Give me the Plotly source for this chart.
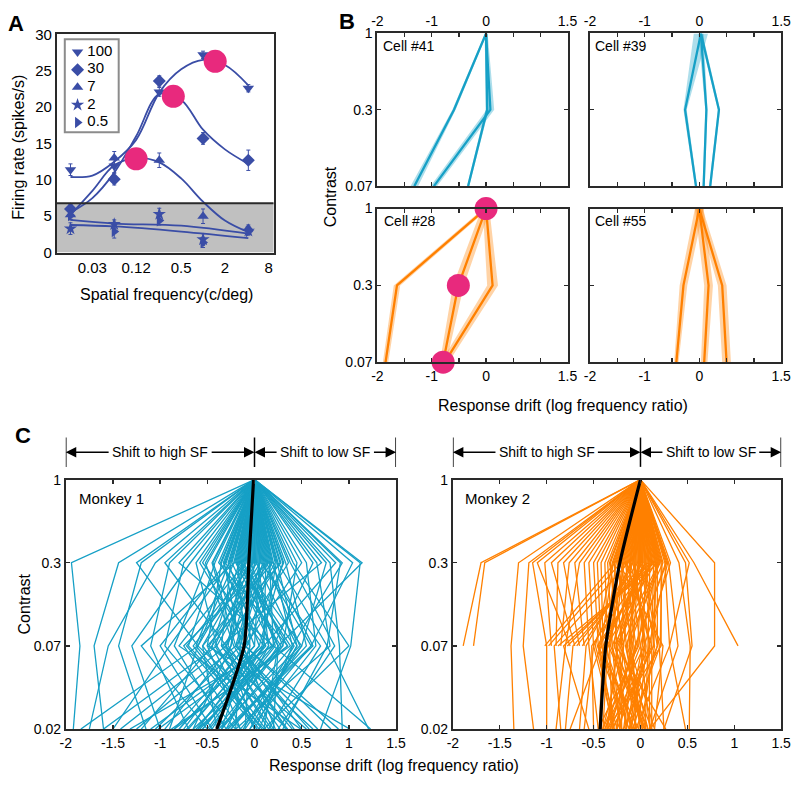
import plotly.graph_objects as go

W, H = 800, 786
FONT = "Arial, Liberation Sans, sans-serif"

# ---------------- Panel A data ----------------
sf = [0.015, 0.06, 0.25, 1.0, 4.2]
legend_names = ["100", "30", "7", "2", "0.5"]
rate_100 = [11.4, 11.9, 22.1, 27.2, 22.6]
rate_30 = [6.0, 10.1, 23.6, 15.7, 12.7]
rate_7 = [5.2, 13.0, 12.7, 5.0, 3.3]
rate_2 = [3.3, 3.9, 5.3, 1.8, 3.0]
rate_05 = [5.1, 2.9, 4.4, 1.4, 2.9]
err_100 = [0.8, 0.9, 0.6, 0.5, 0.5]
err_30 = [0.6, 0.8, 0.7, 0.8, 1.4]
err_7 = [0.6, 0.9, 1.0, 1.0, 0.5]
err_2 = [0.8, 0.6, 0.8, 0.8, 0.5]
err_05 = [0.6, 0.9, 0.6, 0.7, 0.5]
fit_sf = [0.015, 0.03, 0.06, 0.12, 0.25, 0.5, 1.0, 2.0, 4.2]
fit_100 = [10.4, 10.6, 12.5, 15.5, 22.0, 25.2, 26.5, 25.8, 23.0]
fit_30 = [5.5, 7.5, 11.0, 16.0, 21.8, 21.0, 16.9, 14.2, 12.2]
fit_7 = [5.2, 8.5, 12.0, 13.0, 12.4, 10.2, 7.0, 4.4, 2.8]
low_sf = [0.015, 0.06, 0.5, 4.2]
fit_2 = [4.5, 4.0, 3.7, 2.6]
fit_05 = [3.8, 3.6, 2.9, 2.0]
peak_sf = [0.12, 0.39, 1.47]
peak_rate = [12.9, 21.5, 26.3]
gray_threshold = 6.8
A_xticks = [0.03, 0.12, 0.5, 2, 8]

# ---------------- Panel B data ----------------
B_levels = ["1", "0.3", "0.07"]
cell41 = [[0.0, -0.59, -1.32], [0.0, 0.08, -0.96], [0.0, 0.02, -0.33]]
cell41_sem = [[0.02, 0.03, 0.07], [0.03, 0.07, 0.06], [0.02, 0.03, 0.02]]
cell39 = [[0.03, -0.26, -0.06], [0.03, 0.13, 0.08], [0.03, 0.36, 0.2]]
cell39_sem = [[0.13, 0.03, 0.02], [0.05, 0.02, 0.02], [0.03, 0.02, 0.02]]
cell28 = [[0.0, -1.64, -1.85], [0.0, -0.51, -0.79], [0.0, 0.12, -0.76]]
cell28_sem = [[0.05, 0.06, 0.05], [0.08, 0.1, 0.06], [0.06, 0.1, 0.07]]
cell55 = [[0.0, -0.29, -0.42], [0.0, 0.17, 0.09], [0.0, 0.42, 0.5]]
cell55_sem = [[0.08, 0.07, 0.04], [0.08, 0.08, 0.06], [0.06, 0.08, 0.08]]
cell28_peaks_x = [0.0, -0.51, -0.79]
cell28_peaks_lvl = [0, 1, 2]
B_xtickvals = [-2, -1.5, -1, -0.5, 0, 0.5, 1, 1.5]
B_xticktext = ["-2", "", "-1", "", "0", "", "", "1.5"]

# ---------------- Panel C data ----------------
C_levels = ["1", "0.3", "0.07", "0.02"]
m1_c1 = 0.0
m1_c03 = [
    -1.94, -1.44, -1.25, -1.20, -0.95, -0.90, -0.80, -0.75, -0.68, -0.62,
    -0.55, -0.50, -0.45, -0.42, -0.38, -0.35, -0.32, -0.30, -0.28, -0.25,
    -0.22, -0.20, -0.18, -0.16, -0.14, -0.12, -0.10, -0.08, -0.06, -0.05,
    -0.04, -0.02, 0.00, 0.02, 0.03, 0.05, 0.06, 0.08, 0.10, 0.12,
    0.14, 0.16, 0.18, 0.20, 0.22, 0.25, 0.28, 0.30, 0.33, 0.36,
    0.41, 0.45, 0.50, 0.55, 0.62, 0.66, 0.71, 0.76, 0.80, 0.86,
    0.91, 0.93, 1.04, 1.12, 1.14, -0.26, -0.15, -0.09, 0.04, 0.11,
    -0.33, -0.21, 0.07, 0.15, 0.24, -0.58, -1.05, 0.38, -0.11, 0.01,
    -0.36, -0.27, -0.19, -0.13, -0.07, -0.03, 0.09, 0.13, 0.19, 0.23,
    -0.44, -0.31, 0.27, 0.17, -0.01, -0.24, 0.06, -0.17, 0.31, -0.52]
m1_c007 = [
    -1.85, -1.70, -0.60, -1.44, -0.30, -1.10, 0.20, -0.95, -1.30, -0.40,
    0.10, -0.85, -0.20, -0.70, 0.35, -0.50, -0.15, -1.00, 0.05, -0.35,
    -0.60, 0.25, -0.10, -0.45, 0.50, -0.25, -0.80, 0.15, -0.05, -0.55,
    0.30, -0.30, -0.15, 0.45, -0.65, 0.00, -0.20, 0.60, -0.40, 0.10,
    -0.75, 0.20, -0.10, 0.40, -0.30, 0.77, -0.50, 0.05, 0.55, -0.20,
    1.00, 0.30, -0.10, 0.65, 0.20, 0.80, -0.35, 0.50, 0.90, 0.10,
    0.77, 0.40, 0.60, 1.02, 0.25, -0.90, 0.35, -0.60, 0.15, -0.15,
    0.00, -1.20, 0.70, -0.45, 0.45, -0.05, -1.55, 0.85, 0.25, -0.25,
    0.12, -0.62, 0.38, -0.28, 0.22, -0.42, -0.18, 0.48, -0.55, 0.08,
    -0.12, 0.28, -0.33, 0.62, -0.72, 0.18, -0.48, 0.42, -0.08, -0.22]
m1_c002 = [
    -1.92, -1.60, -1.84, -1.15, -1.42, -0.70, -1.32, -0.20, -1.00, -1.60,
    -0.55, -0.30, -1.25, 0.10, -0.85, -0.15, -1.05, -0.45, -0.60, 0.27,
    -0.90, -0.35, -0.75, 0.00, -0.25, -0.95, 0.49, -0.50, -0.10, -0.40,
    -0.65, 0.20, -0.20, -0.05, 0.05, -0.80, 0.67, -0.30, 0.15, -1.10,
    -0.15, -0.55, 0.89, -0.35, 0.00, 0.30, 1.01, -0.70, -0.25, 0.58,
    0.10, -0.40, 0.81, -0.05, 1.23, -0.20, 0.40, -0.10, 0.93, -0.45,
    1.21, 0.05, -0.15, 0.70, 0.20, -1.50, -0.60, 0.35, -0.30, 0.50,
    -0.80, -0.50, 0.15, -1.20, 0.00, -0.35, -1.75, 0.25, 0.10, -0.65,
    -0.62, 0.08, -0.88, 0.35, -0.48, 0.18, 0.42, -0.38, 0.12, -0.72,
    0.22, -0.58, 0.62, -0.28, 0.03, -1.02, 0.55, -0.12, -0.85, 0.33]
m1_mean = [-0.01, -0.06, -0.11, -0.40]

m2_c1 = 0.0
m2_c03 = [
    -1.70, -1.66, -1.30, -1.19, -1.15, -1.10, -1.02, -0.95, -0.88, -0.82,
    -0.76, -0.70, -0.65, -0.60, -0.55, -0.50, -0.46, -0.42, -0.38, -0.35,
    -0.32, -0.30, -0.28, -0.26, -0.24, -0.22, -0.20, -0.18, -0.16, -0.14,
    -0.12, -0.10, -0.08, -0.06, -0.04, -0.02, 0.00, 0.02, 0.04, 0.06,
    0.08, 0.10, 0.12, 0.14, 0.16, 0.18, 0.20, 0.22, 0.24, 0.26,
    0.28, 0.30, 0.32, 0.41, 0.48, 0.52, 0.57, 0.79, -0.09, -0.03,
    0.03, 0.07, 0.11, 0.15, 0.19, -0.13, -0.21, -0.27, 0.01, 0.09,
    -0.01, -0.07, 0.13, 0.17, -0.17, -0.23, 0.05, -0.11, 0.21, -0.05,
    -0.25, -0.19, -0.15, -0.11, -0.06, -0.02, 0.02, 0.05, 0.09, 0.12,
    0.16, 0.20, 0.23, 0.27, -0.29, -0.33, 0.29, -0.08, 0.00, 0.18]
m2_c007 = [
    -1.89, -1.78, -1.38, -1.25, -1.00, -0.75, -0.95, -0.70, -0.90, -0.65,
    -0.85, -0.60, -0.80, -0.55, -0.50, -0.45, -0.42, -0.40, -0.35, -0.30,
    -0.25, -0.48, -0.20, -0.38, -0.15, -0.33, -0.10, -0.28, -0.05, -0.22,
    0.00, -0.18, 0.05, -0.12, 0.10, -0.08, 0.15, -0.03, 0.20, 0.02,
    -0.52, 0.08, -0.44, 0.12, -0.36, 0.18, -0.26, 0.22, -0.16, 0.31,
    -0.06, 0.40, 0.04, 0.53, 0.55, 0.31, 1.04, 0.79, -0.58, -0.62,
    -0.68, -0.72, -0.78, -0.82, -0.88, -0.92, -0.98, -1.02, -0.30, -0.24,
    -0.14, 0.06, -0.46, 0.14, -0.34, 0.24, -0.40, 0.10, -0.20, -0.10,
    -0.08, -0.32, 0.12, -0.45, 0.04, -0.22, 0.18, -0.38, -0.02, -0.28,
    0.14, -0.12, 0.21, -0.05, -0.42, -0.18, 0.09, -0.50, -0.26, 0.00]
m2_c002 = [
    None, None, -1.35, -1.14, -1.00, None, None, None, None, None,
    None, None, -0.90, -0.45, -0.60, -0.30, -0.75, -0.20, -0.40, -0.10,
    -0.35, -0.25, -0.05, -0.42, 0.00, -0.30, -0.15, 0.05, -0.38, -0.20,
    0.10, -0.25, -0.10, 0.15, -0.33, -0.05, 0.00, -0.40, 0.25, -0.15,
    -0.50, 0.05, -0.28, 0.12, -0.20, -0.08, 0.27, -0.35, 0.02, 0.48,
    -0.18, 0.10, -0.12, 0.52, 0.25, -0.05, None, 0.10, -0.65, None,
    None, -0.80, None, -0.55, None, -0.85, None, None, -0.22, -0.36,
    0.08, -0.02, -0.12, -0.30, 0.04, 0.15, -0.44, -0.16, 0.06, -0.26,
    -0.32, 0.05, -0.25, -0.02, -0.38, 0.12, -0.18, -0.08, -0.45, 0.08,
    -0.30, 0.02, -0.12, -0.22, -0.06, -0.40, 0.10, -0.28, -0.15, -0.35]
m2_mean = [0.0, -0.22, -0.37, -0.43]
C_xtickvals = [-2, -1.5, -1, -0.5, 0, 0.5, 1, 1.5]
C_xticktext = ["-2", "-1.5", "-1", "-0.5", "0", "0.5", "1", "1.5"]

# ---------------- styles ----------------
A_BLUE = "#3A4DA6"
CYAN = "#16A0C6"
CYAN_BAND = "rgba(22,160,198,0.35)"
ORANGE = "#FF8000"
ORANGE_BAND = "rgba(255,128,0,0.35)"
PINK = "#E8297D"
SYMBOLS = ["triangle-down", "diamond", "triangle-up", "star", "triangle-right"]


def px_x(p):
    return p / W


def px_y(p):
    return 1 - p / H


fig = go.Figure()

# ---- Panel A ----
series = [(rate_100, err_100), (rate_30, err_30), (rate_7, err_7),
          (rate_2, err_2), (rate_05, err_05)]
for fx, fy in [(fit_sf, fit_100), (fit_sf, fit_30), (fit_sf, fit_7),
               (low_sf, fit_2), (low_sf, fit_05)]:
    fig.add_trace(go.Scatter(x=fx, y=fy, mode="lines", xaxis="x", yaxis="y",
                             line=dict(color=A_BLUE, width=1.8, shape="spline", smoothing=1.0),
                             showlegend=False, hoverinfo="skip"))
for name, (vals, errs), sym in zip(legend_names, series, SYMBOLS):
    fig.add_trace(go.Scatter(x=sf, y=vals, mode="markers", name=name, xaxis="x", yaxis="y",
                             marker=dict(symbol=sym, size=10, color=A_BLUE),
                             error_y=dict(type="data", array=errs, color=A_BLUE,
                                          thickness=1, width=2),
                             showlegend=False))
fig.add_trace(go.Scatter(x=peak_sf, y=peak_rate, mode="markers", xaxis="x", yaxis="y",
                         marker=dict(size=23, color=PINK), showlegend=False,
                         cliponaxis=False))

# manual legend for panel A (own hidden axes laid over the legend box, in pixel units)
leg_rows = [44, 62, 80, 98, 116]
fig.add_trace(go.Scatter(x=[73] * 5, y=leg_rows, mode="markers", xaxis="x8", yaxis="y8",
                         marker=dict(symbol=SYMBOLS, size=10, color=A_BLUE),
                         showlegend=False, hoverinfo="skip", cliponaxis=False))
fig.add_trace(go.Scatter(x=[83] * 5, y=leg_rows, mode="text", text=legend_names,
                         textposition="middle right", xaxis="x8", yaxis="y8",
                         textfont=dict(family=FONT, size=15, color="black"),
                         showlegend=False, hoverinfo="skip", cliponaxis=False))


# ---- Panel B ----
def add_cell(lines, sems, xa, ya, color, band):
    for ln, sm in zip(lines, sems):
        lv = list(range(len(ln)))
        bx = [v + s for v, s in zip(ln, sm)] + [v - s for v, s in zip(ln[::-1], sm[::-1])]
        by = lv + lv[::-1]
        fig.add_trace(go.Scatter(x=bx, y=by, mode="lines", fill="toself", fillcolor=band,
                                 line=dict(width=0), xaxis=xa, yaxis=ya,
                                 showlegend=False, hoverinfo="skip"))
    for ln in lines:
        fig.add_trace(go.Scatter(x=ln, y=list(range(len(ln))), mode="lines",
                                 line=dict(color=color, width=2.3), xaxis=xa, yaxis=ya,
                                 showlegend=False))


add_cell(cell41, cell41_sem, "x2", "y2", CYAN, CYAN_BAND)
add_cell(cell39, cell39_sem, "x3", "y3", CYAN, CYAN_BAND)
add_cell(cell28, cell28_sem, "x4", "y4", ORANGE, ORANGE_BAND)
add_cell(cell55, cell55_sem, "x5", "y5", ORANGE, ORANGE_BAND)
fig.add_trace(go.Scatter(x=cell28_peaks_x, y=cell28_peaks_lvl, mode="markers",
                         marker=dict(size=23, color=PINK), xaxis="x4", yaxis="y4",
                         showlegend=False, cliponaxis=False))


# ---- Panel C ----
def polylines(start, c03, c007, c002):
    xs, ys = [], []
    for a, b, c in zip(c03, c007, c002):
        for lvl, v in enumerate([start, a, b, c]):
            if v is None:
                break
            xs.append(v)
            ys.append(lvl)
        xs.append(None)
        ys.append(None)
    return xs, ys


x1s, y1s = polylines(m1_c1, m1_c03, m1_c007, m1_c002)
fig.add_trace(go.Scatter(x=x1s, y=y1s, mode="lines", line=dict(color=CYAN, width=1.3),
                         xaxis="x6", yaxis="y6", showlegend=False, connectgaps=False))
fig.add_trace(go.Scatter(x=m1_mean, y=list(range(4)), mode="lines",
                         line=dict(color="black", width=3.2, shape="spline", smoothing=0.6),
                         xaxis="x6", yaxis="y6", showlegend=False))
x2s, y2s = polylines(m2_c1, m2_c03, m2_c007, m2_c002)
fig.add_trace(go.Scatter(x=x2s, y=y2s, mode="lines", line=dict(color=ORANGE, width=1.3),
                         xaxis="x7", yaxis="y7", showlegend=False, connectgaps=False))
fig.add_trace(go.Scatter(x=m2_mean, y=list(range(4)), mode="lines",
                         line=dict(color="black", width=3.2, shape="spline", smoothing=0.6),
                         xaxis="x7", yaxis="y7", showlegend=False))

# ---------------- axes ----------------
FRAME = "#2a2a2a"


def axis(**kw):
    d = dict(showline=True, linecolor=FRAME, linewidth=2, mirror="allticks", ticks="inside",
             ticklen=4, tickwidth=1.3, tickcolor=FRAME, showgrid=False, zeroline=False,
             tickfont=dict(family=FONT, size=14, color="black"), fixedrange=True)
    d.update(kw)
    return d


B_top = (px_y(181), px_y(25))
B_bot = (px_y(361), px_y(204))
B_left = (px_x(379), px_x(573))
B_right = (px_x(596), px_x(791))
C_y = (px_y(736), px_y(481))

layout_axes = dict(
    xaxis=axis(domain=[px_x(52), px_x(273)], type="log", range=[-2.01, 0.97],
               tickvals=A_xticks, ticktext=[str(v) for v in A_xticks], ticks="",
               mirror=True, anchor="y", tickfont=dict(family=FONT, size=15, color="black")),
    yaxis=axis(domain=[px_y(249), px_y(26)], range=[0, 30], dtick=5, ticks="", mirror=True,
               anchor="x", tickfont=dict(family=FONT, size=15, color="black")),
    xaxis2=axis(domain=list(B_left), range=[-2, 1.5], side="top", tickvals=B_xtickvals,
                ticktext=B_xticktext, anchor="y2"),
    yaxis2=axis(domain=list(B_top), range=[2, 0], tickvals=[0, 1, 2], ticktext=B_levels,
                anchor="x2"),
    xaxis3=axis(domain=list(B_right), range=[-2, 1.5], side="top", tickvals=B_xtickvals,
                ticktext=B_xticktext, anchor="y3"),
    yaxis3=axis(domain=list(B_top), range=[2, 0], tickvals=[0, 1, 2], showticklabels=False,
                anchor="x3"),
    xaxis4=axis(domain=list(B_left), range=[-2, 1.5], tickvals=B_xtickvals,
                ticktext=B_xticktext, anchor="y4"),
    yaxis4=axis(domain=list(B_bot), range=[2, 0], tickvals=[0, 1, 2], ticktext=B_levels,
                anchor="x4"),
    xaxis5=axis(domain=list(B_right), range=[-2, 1.5], tickvals=B_xtickvals,
                ticktext=B_xticktext, anchor="y5"),
    yaxis5=axis(domain=list(B_bot), range=[2, 0], tickvals=[0, 1, 2], showticklabels=False,
                anchor="x5"),
    xaxis6=axis(domain=[px_x(61), px_x(398)], range=[-2, 1.5], tickvals=C_xtickvals,
                ticktext=C_xticktext, anchor="y6"),
    yaxis6=axis(domain=list(C_y), range=[3, 0], tickvals=[0, 1, 2, 3], ticktext=C_levels,
                anchor="x6"),
    xaxis7=axis(domain=[px_x(456), px_x(791)], range=[-2, 1.5], tickvals=C_xtickvals,
                ticktext=C_xticktext, anchor="y7"),
    yaxis7=axis(domain=list(C_y), range=[3, 0], tickvals=[0, 1, 2, 3], ticktext=C_levels,
                anchor="x7"),
    xaxis8=dict(domain=[px_x(60), px_x(115)], range=[60, 115], visible=False,
                fixedrange=True, anchor="y8"),
    yaxis8=dict(domain=[px_y(126), px_y(31)], range=[126, 31], visible=False,
                fixedrange=True, anchor="x8"),
)

# ---------------- shapes ----------------
shapes = [
    dict(type="rect", xref="x domain", yref="y", x0=0, x1=1, y0=0, y1=gray_threshold,
         fillcolor="#C0C0C0", line=dict(width=0), layer="below"),
    dict(type="line", xref="x domain", yref="y", x0=0, x1=1, y0=gray_threshold,
         y1=gray_threshold, line=dict(color=FRAME, width=2)),
    dict(type="rect", xref="paper", yref="paper", x0=px_x(60), x1=px_x(115),
         y0=px_y(126), y1=px_y(31), fillcolor="white",
         line=dict(color="#8c8c8c", width=2), layer="below"),
]
bar_y0, bar_y1, arrow_y = px_y(468), px_y(438), px_y(453)
for xa in ["x6", "x7"]:
    for xv in [-2, 0, 1.5]:
        shapes.append(dict(type="line", xref=xa, yref="paper", x0=xv, x1=xv,
                           y0=bar_y0, y1=bar_y1, line=dict(color="black", width=1.5)))

# ---------------- annotations ----------------
ann = []


def label(text, x, y, size=16, angle=0, xanchor="center", bold=False):
    t = f"<b>{text}</b>" if bold else text
    ann.append(dict(text=t, x=px_x(x), y=px_y(y), xref="paper", yref="paper",
                    showarrow=False, textangle=angle, xanchor=xanchor, yanchor="middle",
                    font=dict(family=FONT, size=size, color="black")))


label("A", 10, 15, size=22, bold=True)
label("B", 348, 13, size=22, bold=True)
label("C", 17, 436, size=22, bold=True)
label("Firing rate (spikes/s)", 13, 141, size=16, angle=-90)
label("Spatial frequency(c/deg)", 164, 292, size=16)
label("Contrast", 331, 192, size=16, angle=-90)
label("Response drift (log frequency ratio)", 568, 405, size=16)
label("Contrast", 19, 608, size=16, angle=-90)
label("Response drift (log frequency ratio)", 396, 773, size=16)
label("Cell #41", 383, 38, size=14, xanchor="left")
label("Cell #39", 599, 38, size=14, xanchor="left")
label("Cell #28", 384, 217, size=14, xanchor="left")
label("Cell #55", 599, 217, size=14, xanchor="left")
label("Monkey 1", 72, 500, size=15, xanchor="left")
label("Monkey 2", 466, 500, size=15, xanchor="left")

for xa in ["x6", "x7"]:
    for txt, cx in [("Shift to high SF", -1.0), ("Shift to low SF", 0.75)]:
        ann.append(dict(text=txt, x=cx, y=arrow_y, xref=xa, yref="paper", showarrow=False,
                        xanchor="center", yanchor="middle",
                        font=dict(family=FONT, size=14, color="black")))
    for head, tail in [(-2, -1.53), (0, -0.47), (0, 0.25), (1.5, 1.25)]:
        ann.append(dict(text="", x=head, y=arrow_y, xref=xa, yref="paper",
                        ax=tail, ay=0, axref=xa, ayref="pixel", showarrow=True,
                        arrowhead=2, arrowsize=1.5, arrowwidth=1.4, arrowcolor="black",
                        standoff=0, startstandoff=0))

fig.update_layout(
    width=W, height=H, autosize=False,
    margin=dict(l=0, r=0, t=0, b=0),
    paper_bgcolor="white", plot_bgcolor="rgba(0,0,0,0)",
    font=dict(family=FONT, size=14, color="black"),
    shapes=shapes, annotations=ann, showlegend=False,
    **layout_axes,
)

fig.write_html("out.html",
               config={"displayModeBar": False, "staticPlot": True},
               post_script="document.body.style.margin='0px';"
                           "document.body.style.overflow='hidden';")
